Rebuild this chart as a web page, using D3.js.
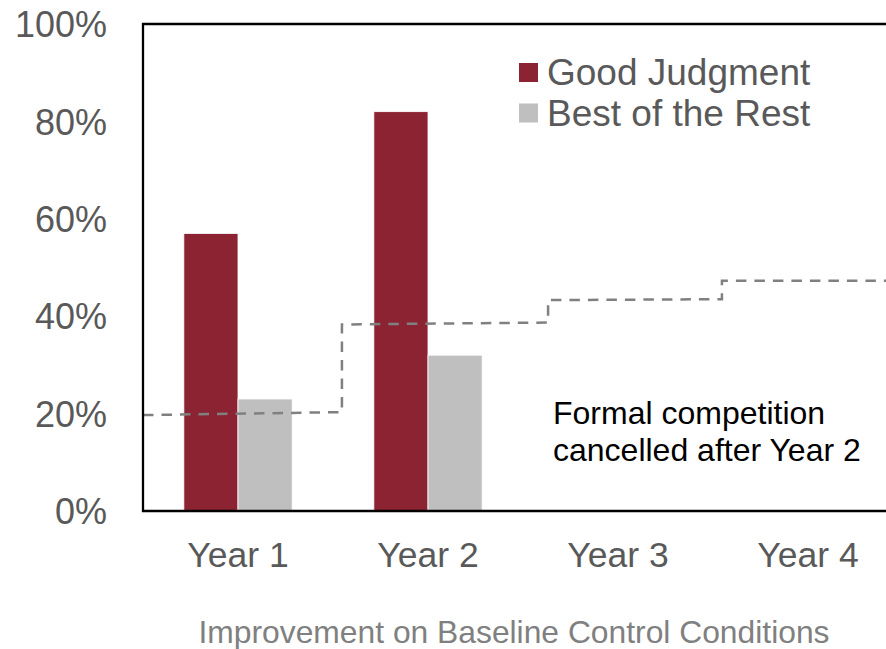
<!DOCTYPE html>
<html>
<head>
<meta charset="utf-8">
<script src="https://cdn.jsdelivr.net/npm/d3@7/dist/d3.min.js"></script>
<style>
  html, body { margin: 0; padding: 0; background: #fff; }
  svg { display: block; }
  text { font-family: "Liberation Sans", Arial, sans-serif; }
</style>
</head>
<body>
<svg id="chart" width="886" height="649"></svg>
<script>
// ---- data ----
const categories = ["Year 1", "Year 2", "Year 3", "Year 4"];
const series = ["Good Judgment", "Best of the Rest"];
const goodJudgment = [57, 82, null, null];
const bestOfRest = [23, 32, null, null];
const yTicks = [0, 20, 40, 60, 80, 100];
// baseline control condition (stepped dashed line): position in category units, value in %
const baselineX = [0, 1.047, 1.047, 2.132, 2.132, 3.047, 3.047, 4];
const baselineY = [19.7, 20.3, 38.3, 38.7, 43.3, 43.5, 47.3, 47.3];
const annotation = ["Formal competition", "cancelled after Year 2"];
const xTitle = "Improvement on Baseline Control Conditions";
const colors = ["#8B2332", "#BFBFBF"];

// ---- layout ----
const svg = d3.select("#chart");
const plot = { left: 143, top: 24, right: 903, bottom: 511 };

const x0 = d3.scaleBand().domain(categories)
  .range([plot.left, plot.right]).paddingInner(0.43).paddingOuter(0.215);
const x1 = d3.scaleBand().domain(series).range([0, x0.bandwidth()]);
const y = d3.scaleLinear().domain([0, 100]).range([plot.bottom, plot.top]);
const xu = d3.scaleLinear().domain([0, categories.length]).range([plot.left, plot.right]);
const color = d3.scaleOrdinal().domain(series).range(colors);

const values = { "Good Judgment": goodJudgment, "Best of the Rest": bestOfRest };

// bars
const groups = svg.append("g").selectAll("g").data(categories).join("g")
  .attr("transform", d => `translate(${x0(d)},0)`);
groups.selectAll("rect")
  .data((c, i) => series.map(s => ({ s, v: values[s][i] })).filter(d => d.v != null))
  .join("rect")
  .attr("x", d => x1(d.s))
  .attr("width", x1.bandwidth())
  .attr("y", d => y(d.v))
  .attr("height", d => y(0) - y(d.v))
  .attr("fill", d => color(d.s))
  .attr("stroke", "#fff")
  .attr("stroke-width", 0.8);

// baseline dashed step line
const pts = baselineX.map((u, i) => [u, baselineY[i]]);
svg.append("path")
  .datum(pts)
  .attr("d", d3.line().x(d => xu(d[0])).y(d => y(d[1])))
  .attr("fill", "none")
  .attr("stroke", "#808080")
  .attr("stroke-width", 2.5)
  .attr("stroke-dasharray", "10.5,8");

// plot frame (left, top, bottom)
svg.append("path")
  .attr("d", `M${plot.right},${plot.top}H${plot.left}V${plot.bottom}H${plot.right}`)
  .attr("fill", "none")
  .attr("stroke", "#000")
  .attr("stroke-width", 2.3);

// y axis labels
const yAxis = d3.axisLeft(y).tickValues(yTicks).tickFormat(d => d + "%").tickSize(0).tickPadding(36);
const ya = svg.append("g").attr("transform", `translate(${plot.left},0)`).call(yAxis);
ya.select(".domain").remove();
ya.selectAll("text")
  .attr("font-family", "Liberation Sans, Arial, sans-serif")
  .attr("font-size", 36).attr("fill", "#595959").attr("dy", "0.35em");

// x axis labels
const xAxis = d3.axisBottom(x0).tickSize(0).tickPadding(0);
const xa = svg.append("g").attr("transform", `translate(0,${plot.bottom})`).call(xAxis);
xa.select(".domain").remove();
xa.selectAll("text")
  .attr("font-family", "Liberation Sans, Arial, sans-serif")
  .attr("font-size", 35.5).attr("fill", "#595959")
  .attr("y", 56).attr("dy", 0);

// legend
const legend = svg.append("g").attr("transform", "translate(519,63)");
const li = legend.selectAll("g").data(series).join("g")
  .attr("transform", (d, i) => `translate(0,${i * 40.5})`);
li.append("rect").attr("width", 19).attr("height", 19).attr("fill", d => color(d));
li.append("text").attr("x", 28).attr("y", 22)
  .attr("font-size", 37).attr("fill", "#595959").text(d => d);

// annotation
svg.append("text").attr("x", 553).attr("y", 424)
  .attr("font-size", 32).attr("fill", "#000")
  .selectAll("tspan").data(annotation).join("tspan")
  .attr("x", 553).attr("dy", (d, i) => i ? 36.5 : 0).text(d => d);

// axis title
svg.append("text").attr("x", 514).attr("y", 643)
  .attr("text-anchor", "middle").attr("font-size", 31.8).attr("fill", "#808080")
  .text(xTitle);
</script>
</body>
</html>
